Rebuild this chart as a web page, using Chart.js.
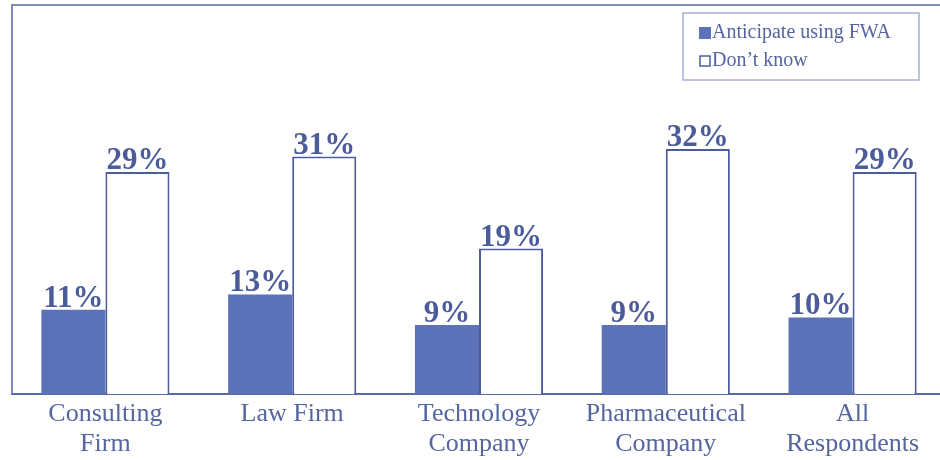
<!DOCTYPE html>
<html>
<head>
<meta charset="utf-8">
<script src="https://cdn.jsdelivr.net/npm/chart.js@4"></script>
<style>
  html, body { margin: 0; padding: 0; background: #fff; overflow: hidden; }
  .wrap { position: relative; width: 946px; height: 460px; }
</style>
</head>
<body>
<div class="wrap"><canvas id="fwaChart"></canvas></div>
<script>
// Respondent groups and their shares (percent)
const categories = [
  ["Consulting", "Firm"],
  ["Law Firm"],
  ["Technology", "Company"],
  ["Pharmaceutical", "Company"],
  ["All", "Respondents"],
];
const anticipate = [11, 13, 9, 9, 10];
const dontKnow = [29, 31, 19, 32, 29];
const seriesNames = ["Anticipate using FWA", "Don\u2019t know"];

const FILL = "#5b72b8";
const LINE = "#4d5d9c";
const TEXT = "#55659f";

// Percent labels above every bar
const valueLabels = {
  id: "valueLabels",
  afterDatasetsDraw(chart) {
    const ctx = chart.ctx;
    ctx.save();
    ctx.font = "bold 31px 'Liberation Serif', serif";
    ctx.fillStyle = "#4c5c9a";
    ctx.textAlign = "center";
    ctx.textBaseline = "alphabetic";
    chart.data.datasets.forEach((ds, i) => {
      chart.getDatasetMeta(i).data.forEach((bar, j) => {
        ctx.fillText(ds.data[j] + "%", bar.x, bar.y - 3);
      });
    });
    ctx.restore();
  },
};

// Left and top frame lines plus the boxed legend
const frameAndLegend = {
  id: "frameAndLegend",
  afterDraw(chart) {
    const ctx = chart.ctx;
    const a = chart.chartArea;
    ctx.save();
    ctx.strokeStyle = "#7f8bb8";
    ctx.lineWidth = 2;
    ctx.beginPath();
    ctx.moveTo(a.left, a.bottom);
    ctx.lineTo(a.left, a.top);
    ctx.lineTo(a.right, a.top);
    ctx.stroke();

    // legend box
    ctx.strokeStyle = "#a7afcf";
    ctx.lineWidth = 1.5;
    ctx.strokeRect(683, 13, 236, 67);
    ctx.font = "20px 'Liberation Serif', serif";
    ctx.textBaseline = "middle";
    ctx.textAlign = "left";
    // filled marker
    ctx.fillStyle = FILL;
    ctx.fillRect(699, 27, 12, 12);
    ctx.fillStyle = TEXT;
    ctx.fillText(seriesNames[0], 712, 33);
    // outlined marker
    ctx.strokeStyle = LINE;
    ctx.lineWidth = 1.5;
    ctx.strokeRect(700, 56, 10, 10);
    ctx.fillText(seriesNames[1], 712, 61);
    ctx.restore();
  },
};

new Chart(document.getElementById("fwaChart"), {
  type: "bar",
  data: {
    labels: categories,
    datasets: [
      {
        label: seriesNames[0],
        data: anticipate,
        backgroundColor: FILL,
        borderColor: FILL,
        borderWidth: 0,
      },
      {
        label: seriesNames[1],
        data: dontKnow,
        backgroundColor: "#ffffff",
        borderColor: LINE,
        borderWidth: 2,
      },
    ],
  },
  options: {
    responsive: true,
    maintainAspectRatio: false,
    animation: false,
    layout: { padding: { left: 12, top: 5, right: 0, bottom: 0 } },
    datasets: {
      bar: { categoryPercentage: 0.686, barPercentage: 1.0 },
    },
    scales: {
      x: {
        grid: { display: false, drawTicks: false },
        border: { display: true, color: "#5a69a2", width: 2 },
        ticks: {
          color: TEXT,
          font: { family: "'Liberation Serif', serif", size: 26, lineHeight: 1.16 },
          padding: 5,
          maxRotation: 0,
          autoSkip: false,
        },
        afterFit(scale) { scale.height = 66; },
      },
      y: {
        display: false,
        min: 0,
        max: 50.8,
      },
    },
    plugins: {
      legend: { display: false },
      tooltip: { enabled: false },
    },
  },
  plugins: [valueLabels, frameAndLegend],
});
</script>
</body>
</html>
